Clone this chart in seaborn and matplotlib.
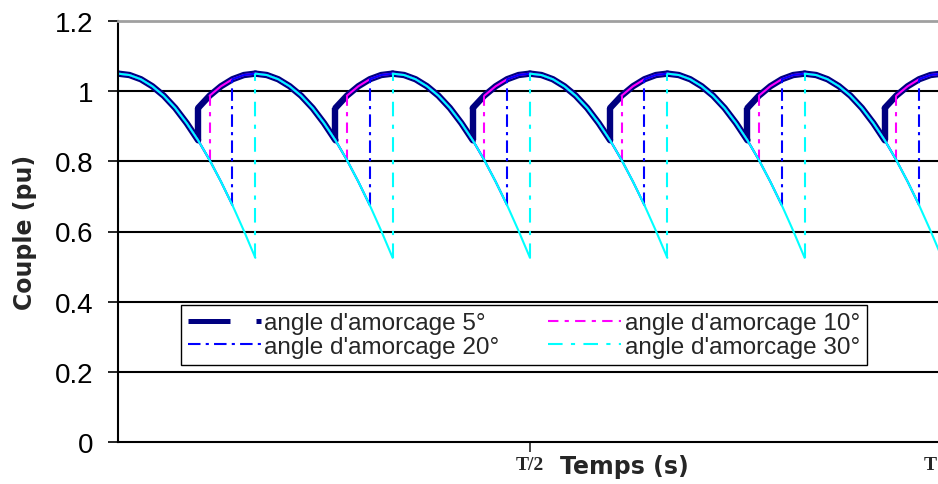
import matplotlib
matplotlib.use("Agg")
import numpy as np
import pandas as pd
import matplotlib.pyplot as plt
import matplotlib.transforms as mtransforms
from matplotlib.lines import Line2D
import seaborn as sns

# une période d'ondulation (60° électriques = T/6)
theta = [0, 5, 10, 15, 20, 25, 30, 35, 40, 45, 50, 55, 60]
couple_descente = [1.05, 1.046, 1.034, 1.014, 0.987, 0.952, 0.909, 0.86, 0.804, 0.742, 0.675, 0.602, 0.525]
theta_montee = [35, 40, 45, 50, 55, 60]
couple_montee = [0.952, 0.987, 1.014, 1.034, 1.046, 1.05]

angles = [5, 10, 20, 30]
noms = ["angle d'amorcage 5°", "angle d'amorcage 10°", "angle d'amorcage 20°", "angle d'amorcage 30°"]
couleurs = ["#000080", "#ff00ff", "#0000ff", "#00ffff"]
periodes = range(-1, 6)

y_ticks = [0, 0.2, 0.4, 0.6, 0.8, 1.0, 1.2]
y_labels = ["0", "0.2", "0.4", "0.6", "0.8", "1", "1.2"]
x_ticks = [0.5, 1.0]
x_labels = ["T/2", "T"]

# construction des segments (arc descendant, saut à l'amorçage, arc montant)
lignes = []
seg = 0
for a in angles:
    tf = a + 30
    for k in periodes:
        base = 60 * k
        for th, c in zip(theta, couple_descente):
            if th <= tf:
                lignes.append([a, seg, "arc", (base + th) / 360, c])
        seg += 1
        lignes.append([a, seg, "saut", (base + tf) / 360, couple_descente[theta.index(tf)]])
        lignes.append([a, seg, "saut", (base + tf) / 360, couple_montee[theta_montee.index(tf)]])
        seg += 1
        pts = [(th, c) for th, c in zip(theta_montee, couple_montee) if th >= tf]
        if len(pts) > 1:
            for th, c in pts:
                lignes.append([a, seg, "arc", (base + th) / 360, c])
            seg += 1
df = pd.DataFrame(lignes, columns=["angle", "seg", "type", "t", "couple"])

sns.set_style("ticks")
plt.rcParams['font.family'] = ['Liberation Sans', 'DejaVu Sans']

fig = plt.figure(figsize=(9.38, 4.85), dpi=100)
ax = fig.add_axes([118 / 938, 42 / 485, 824 / 938, 421 / 485])

largeurs = [4.6, 1.5, 1.5, 1.5]
tirets = [(0, (7.0, 4.3, 1.8, 4.3)), (0, (5, 3, 2, 3)), (0, (6, 2.5, 1.5, 2.5)), (0, (7, 4, 2, 4))]

for a, col, lw, ls in zip(angles, couleurs, largeurs, tirets):
    d = df[df["angle"] == a]
    sns.lineplot(data=d[d["type"] == "arc"], x="t", y="couple", units="seg", estimator=None,
                 sort=False, color=col, lw=lw, ax=ax, legend=False)
    sns.lineplot(data=d[d["type"] == "saut"], x="t", y="couple", units="seg", estimator=None,
                 sort=False, color=col, lw=lw, linestyle=ls, ax=ax, legend=False)

ax.set_xlim(0, 1)
ax.set_ylim(0, 1.2)
ax.set_yticks(y_ticks, labels=y_labels)
ax.set_xticks(x_ticks, labels=x_labels)
ax.tick_params(axis="y", labelsize=20, length=7, width=1.2, pad=11, colors="black")
ax.tick_params(axis="x", length=7, width=1.2, pad=3)
for lab in ax.get_xticklabels():
    lab.set_family(["Liberation Serif", "DejaVu Serif"])
    lab.set_fontweight("bold")
    lab.set_fontsize(14)
# le "T" de fin d'axe tombe au bord de l'image : on le rentre un peu
lab_T = ax.get_xticklabels()[-1]
lab_T.set_horizontalalignment("right")
lab_T.set_transform(lab_T.get_transform() + mtransforms.ScaledTranslation(-5 / 100, 0, fig.dpi_scale_trans))

ax.set_axisbelow(True)
ax.yaxis.grid(True, color="black", lw=1.5)
ax.get_ygridlines()[-1].set_visible(False)
ax.get_ygridlines()[0].set_visible(False)
for s in ["left", "bottom"]:
    ax.spines[s].set_color("black")
    ax.spines[s].set_linewidth(1.5)
ax.spines["top"].set_color("#a0a0a0")
ax.spines["top"].set_linewidth(2)
ax.spines["right"].set_visible(False)

ax.set_ylabel("Couple (pu)", family="DejaVu Sans", fontweight="bold", fontsize=17)
ax.yaxis.set_label_coords(-0.113, 0.5)
ax.yaxis.label.set_verticalalignment("center")
ax.set_xlabel("Temps (s)", family="DejaVu Sans", fontweight="bold", fontsize=17)
ax.xaxis.set_label_coords(0.615, -0.057)
ax.xaxis.label.set_verticalalignment("center")

poignees = [Line2D([], [], color=c, lw=(3.6 if i == 0 else 1.5),
                   linestyle=((0, (8.4, 5.2, 2.2, 5.2)) if i == 0 else ls))
            for i, (c, ls) in enumerate(zip(couleurs, tirets))]
ordre = [0, 2, 1, 3]
leg = ax.legend([poignees[i] for i in ordre], [noms[i] for i in ordre], ncol=2,
                loc="center", bbox_to_anchor=(0.4927, 0.254), fontsize=17.5,
                handlelength=3.0, handletextpad=0.15, columnspacing=2.0,
                labelspacing=0.05, borderpad=0.3, fancybox=False, framealpha=1)
leg.get_frame().set_edgecolor("black")
leg.get_frame().set_linewidth(1.0)

plt.savefig("out.png", dpi=100)
